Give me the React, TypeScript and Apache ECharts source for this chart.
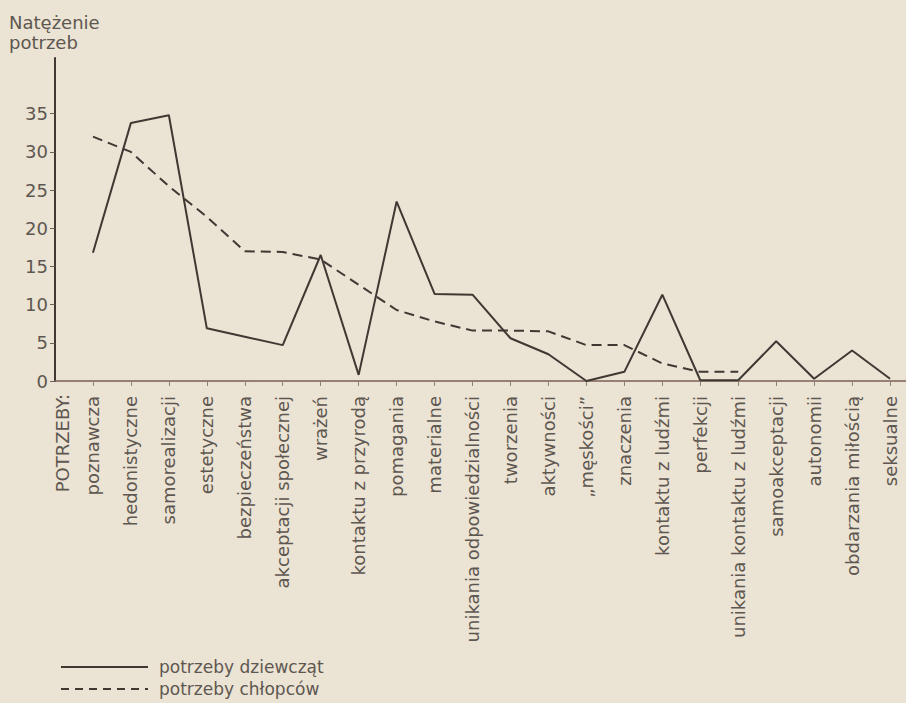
import React, { useEffect, useRef } from "react";
import * as echarts from "echarts";

const categories: string[] = [
  "poznawcza",
  "hedonistyczne",
  "samorealizacji",
  "estetyczne",
  "bezpieczeństwa",
  "akceptacji społecznej",
  "wrażeń",
  "kontaktu z przyrodą",
  "pomagania",
  "materialne",
  "unikania odpowiedzialności",
  "tworzenia",
  "aktywności",
  "„męskości”",
  "znaczenia",
  "kontaktu z ludźmi",
  "perfekcji",
  "unikania kontaktu z ludźmi",
  "samoakceptacji",
  "autonomii",
  "obdarzania miłością",
  "seksualne",
];

const girls: (number | null)[] = [
  16.8, 33.8, 34.8, 6.9, 5.8, 4.7, 16.5, 0.8, 23.5, 11.4, 11.3, 5.6, 3.5, 0, 1.2,
  11.3, 0.1, 0.1, 5.2, 0.3, 4.0, 0.3,
];

const boys: (number | null)[] = [
  32, 30, 25.5, 21.5, 17, 16.9, 15.9, 12.6, 9.3, 7.8, 6.6, 6.6, 6.5, 4.7, 4.7,
  2.3, 1.2, 1.2, null, null, null, null,
];

const yTicks: number[] = [0, 5, 10, 15, 20, 25, 30, 35];

const seriesNames = ["potrzeby dziewcząt", "potrzeby chłopców"];

const FONT = "DejaVu Sans";
const INK = "#3f3833";
const TEXT = "#5e5751";

export default function App() {
  const ref = useRef<HTMLDivElement>(null);
  useEffect(() => {
    if (!ref.current) return;
    const chart = echarts.init(ref.current, undefined, { renderer: "svg" });
    const idx = categories.map((_, i) => i);
    chart.setOption({
      animation: false,
      backgroundColor: "#ebe3d3",
      textStyle: { fontFamily: FONT },
      grid: { left: 55, right: 0, top: 58, bottom: 322, containLabel: false },
      xAxis: {
        type: "value",
        min: -1,
        max: 21.42,
        axisLine: { show: true, onZero: false, lineStyle: { color: "#7d5f56", width: 1.5 } },
        axisTick: { show: true, customValues: idx, length: 5, lineStyle: { color: "#8a817a" } },
        axisLabel: {
          customValues: idx,
          rotate: 90,
          margin: 15,
          fontSize: 18,
          color: TEXT,
          fontFamily: FONT,
          formatter: (v: number) => categories[Math.round(v)] ?? "",
        },
        splitLine: { show: false },
      },
      yAxis: {
        type: "value",
        min: 0,
        max: 42.3,
        axisLine: { show: true, onZero: false, lineStyle: { color: INK, width: 2 } },
        axisTick: { show: true, customValues: yTicks, length: 5, lineStyle: { color: "#6a625c" } },
        axisLabel: {
          customValues: yTicks,
          margin: 7,
          fontSize: 18,
          color: TEXT,
          fontFamily: FONT,
        },
        splitLine: { show: false },
      },
      legend: {
        orient: "vertical",
        left: 55,
        top: 653,
        itemWidth: 87,
        itemHeight: 14,
        itemGap: 4,
        itemStyle: { opacity: 0 },
        textStyle: { fontSize: 17, lineHeight: 18, color: TEXT, fontFamily: FONT, padding: [0, 0, 0, 6] },
        data: [
          { name: seriesNames[0], lineStyle: { color: INK, width: 2, type: "solid" } },
          { name: seriesNames[1], lineStyle: { color: INK, width: 2, type: [8, 6] } },
        ],
      },
      graphic: [
        {
          type: "text",
          left: 9,
          top: 12,
          style: {
            text: "Natężenie\npotrzeb",
            fontSize: 18,
            lineHeight: 20,
            fill: TEXT,
            fontFamily: FONT,
          },
        },
        {
          type: "text",
          x: 62,
          y: 394,
          rotation: Math.PI / 2,
          style: {
            text: "POTRZEBY:",
            fontSize: 18,
            fill: TEXT,
            fontFamily: FONT,
            align: "right",
            verticalAlign: "middle",
          },
        },
      ],
      series: [
        {
          name: seriesNames[0],
          type: "line",
          data: girls.map((v, i) => [i, v]),
          symbol: "none",
          lineStyle: { color: INK, width: 2, type: "solid" },
          itemStyle: { color: INK },
        },
        {
          name: seriesNames[1],
          type: "line",
          data: boys.map((v, i) => [i, v]),
          symbol: "none",
          lineStyle: { color: INK, width: 2, type: [10, 6] },
          itemStyle: { color: INK },
        },
      ],
    });
    return () => chart.dispose();
  }, []);
  return (
    <div
      ref={ref}
      style={{ position: "absolute", left: 0, top: 0, width: 906, height: 703 }}
    />
  );
}
